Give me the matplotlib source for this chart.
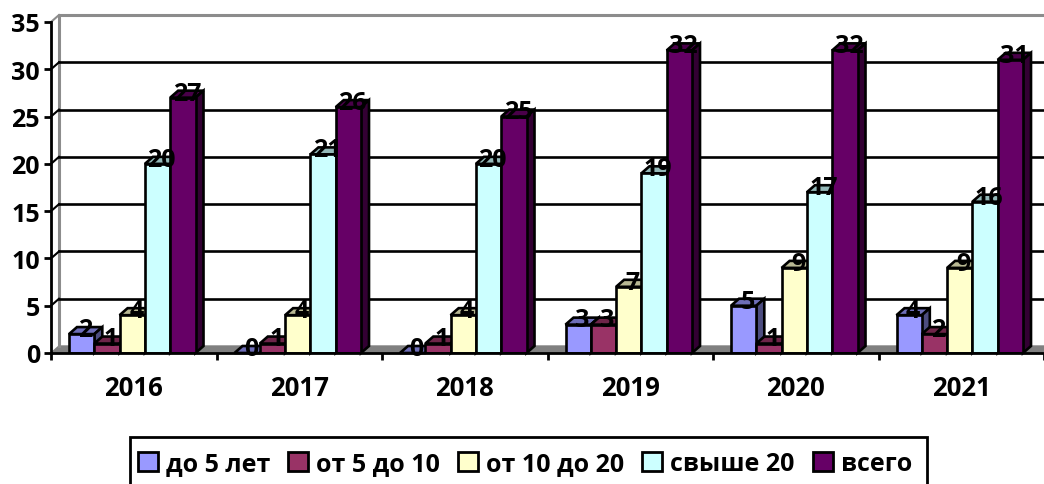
import matplotlib
matplotlib.use('Agg')
import matplotlib.pyplot as plt
from matplotlib.patches import Polygon, Patch, Rectangle

years = ['2016', '2017', '2018', '2019', '2020', '2021']
series_names = ['до 5 лет', 'от 5 до 10', 'от 10 до 20', 'свыше 20', 'всего']
up_to_5 = [2, 0, 0, 3, 5, 4]
from_5_to_10 = [1, 1, 1, 3, 1, 2]
from_10_to_20 = [4, 4, 4, 7, 9, 9]
over_20 = [20, 21, 20, 19, 17, 16]
total = [27, 26, 25, 32, 32, 31]
series = [up_to_5, from_5_to_10, from_10_to_20, over_20, total]
colors = ['#9999FF', '#993366', '#FFFFCC', '#CCFFFF', '#660066']
y_ticks = [0, 5, 10, 15, 20, 25, 30, 35]


def shade(color, k):
    r, g, b = matplotlib.colors.to_rgb(color)
    return (r * k, g * k, b * k)


plt.rcParams['font.family'] = ['Open Sans', 'DejaVu Sans']
plt.rcParams['font.weight'] = 'bold'

W, H = 1044, 485
fig = plt.figure(figsize=(W / 100, H / 100), dpi=100)
# передняя плоскость диаграммы
ax = fig.add_axes([51 / W, 1 - 354 / H, 993 / W, 331 / H])
ax.set_xlim(0, 6)
ax.set_ylim(0, 35)

# смещение задней стенки, 8 px вправо и 7 px вверх
dx = 8 / (993 / 6)
dy = 7 / (331 / 35)
bar_w = 25.3 / (993 / 6)
gap = 18 / (993 / 6)

# пол и стенка
ax.add_patch(Polygon([(0, 0), (6, 0), (6 + dx, dy), (dx, dy)], fc='#808080', ec='#808080',
                     lw=1, clip_on=False, zorder=1))
ax.plot([dx, dx, 6 + dx], [dy, 35 + dy, 35 + dy], color='#8c8c8c', lw=2.2, clip_on=False, zorder=1)
ax.plot([0, dx], [35, 35 + dy], color='#8c8c8c', lw=1.5, clip_on=False, zorder=1)
for t in y_ticks[1:-1]:
    ax.plot([dx, 6 + dx], [t + dy, t + dy], color='black', lw=1.9, clip_on=False, zorder=2)
    ax.plot([0, dx], [t, t + dy], color='black', lw=1.5, clip_on=False, zorder=2)

# столбцы
for i in range(len(years)):
    for j, values in enumerate(series):
        v = values[i]
        x0 = i + gap + j * bar_w
        x1 = x0 + bar_w
        z = 3 + j * 0.1
        ec = 'black'
        ax.add_patch(Polygon([(x0, v), (x1, v), (x1 + dx, v + dy), (x0 + dx, v + dy)],
                             fc=shade(colors[j], 0.72), ec=ec, lw=1.9, clip_on=False, zorder=z))
        ax.add_patch(Polygon([(x1, 0), (x1 + dx, dy), (x1 + dx, v + dy), (x1, v)],
                             fc=shade(colors[j], 0.5), ec=ec, lw=1.9, clip_on=False, zorder=z))
        if v > 0:
            ax.bar(x0, v, width=bar_w, align='edge', color=colors[j], edgecolor=ec, lw=1.9, zorder=z)

for i in range(len(years)):
    for j, values in enumerate(series):
        v = values[i]
        x = i + gap + (j + 0.5) * bar_w + dx / 2
        ax.text(x, v + dy - 0.25, str(v), ha='center', va='center', fontsize=18, fontweight='bold',
                color='black', clip_on=False, zorder=10)

for side in ['top', 'right']:
    ax.spines[side].set_visible(False)
for side in ['left', 'bottom']:
    ax.spines[side].set_linewidth(2)
    ax.spines[side].set_zorder(5)
ax.patch.set_visible(False)

ax.set_yticks(y_ticks)
ax.set_xticks(range(7))
ax.set_xticks([i + 0.5 for i in range(6)], minor=True)
ax.set_xticklabels([])
ax.set_xticklabels(years, minor=True, fontweight='bold')
ax.set_yticklabels([str(t) for t in y_ticks], fontweight='bold')
ax.tick_params(axis='y', length=5, width=2, labelsize=18, pad=3)
ax.tick_params(axis='x', which='major', length=5, width=2)
ax.tick_params(axis='x', which='minor', length=0, labelsize=18.5, pad=15)

# рамка легенды уходит за нижний край картинки
fig.add_artist(Rectangle((130 / W, 1 - 490 / H), 797 / W, 52 / H, transform=fig.transFigure,
                         fc='white', ec='black', lw=2))
handles = [Patch(facecolor=c, edgecolor='black', lw=2) for c in colors]
leg = fig.legend(handles, series_names, ncol=5, loc='center', bbox_to_anchor=(525 / W, 1 - 465 / H),
                 prop={'size': 18, 'weight': 'bold'}, frameon=False,
                 handlelength=0.8, handleheight=0.8, handletextpad=0.32, columnspacing=0.72,
                 borderpad=0, borderaxespad=0)

fig.savefig('out.png', dpi=100)
